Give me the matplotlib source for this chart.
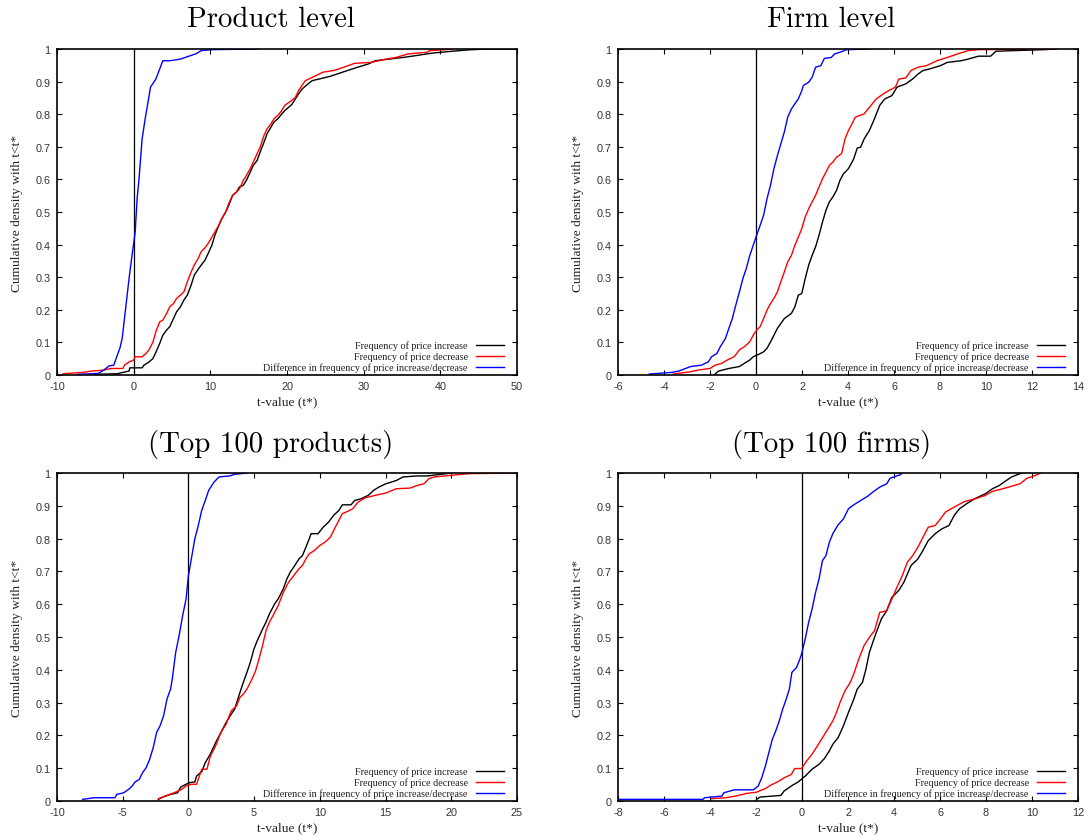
import matplotlib
matplotlib.use("Agg")
import matplotlib.pyplot as plt
from matplotlib.ticker import FixedLocator, FuncFormatter

# ---------------- data ----------------
# Panel 1: Product level
prod_inc_t = [-5.0, -2.1, -1.4, -0.6, -0.5, 1.1, 1.34, 2.0, 2.5, 2.9, 3.4, 3.8, 4.3, 4.7,
              5.2, 5.6, 6.1, 6.55, 7.0, 7.5, 7.9, 8.4, 8.8, 9.3, 9.7, 10.2, 10.6, 11.1, 11.5,
              12.0, 12.4, 12.9, 13.4, 13.8, 14.3, 14.7, 15.2, 15.6, 16.1, 16.5, 17.0, 17.4,
              17.9, 18.3, 18.8, 19.3, 19.7, 20.2, 20.6, 21.1, 21.5, 22.0, 22.4, 22.9, 23.3,
              24.2, 25.6, 26.5, 27.9, 29.2, 30.6, 31.5, 33.3, 35.1, 36.9, 38.8, 40.1, 41.5,
              43.5, 46.0, 50.0]
prod_inc_cdf = [0.002, 0.004, 0.008, 0.012, 0.022, 0.022, 0.03, 0.04, 0.05, 0.07, 0.097, 0.122,
                0.138, 0.148, 0.173, 0.194, 0.209, 0.23, 0.245, 0.276, 0.306, 0.324, 0.337,
                0.352, 0.372, 0.398, 0.429, 0.459, 0.48, 0.5, 0.52, 0.551, 0.561, 0.577, 0.582,
                0.597, 0.622, 0.643, 0.658, 0.684, 0.714, 0.74, 0.76, 0.776, 0.786, 0.80, 0.811,
                0.821, 0.829, 0.847, 0.862, 0.878, 0.886, 0.896, 0.903, 0.908, 0.916, 0.923,
                0.934, 0.944, 0.954, 0.964, 0.969, 0.974, 0.98, 0.987, 0.99, 0.993, 0.997, 1.0, 1.0]
prod_dec_t = [-9.2, -6.6, -5.5, -3.9, -3.0, -1.4, -1.2, -0.6, 0.0, 0.2, 1.1, 1.6, 2.0, 2.5, 2.9,
              3.4, 3.8, 4.3, 4.7, 5.2, 5.6, 6.1, 6.55, 7.0, 7.5, 7.9, 8.4, 8.8, 9.3, 9.7, 10.2,
              10.6, 11.1, 11.5, 12.0, 12.4, 12.9, 13.4, 13.8, 14.3, 14.7, 15.2, 15.6, 16.1,
              16.5, 17.0, 17.4, 17.9, 18.3, 18.8, 19.3, 19.7, 20.6, 21.1, 21.5, 22.0, 22.4,
              23.3, 24.7, 26.1, 27.4, 28.8, 31.0, 32.9, 34.2, 35.8, 38.3, 38.6, 40.1, 41.7]
prod_dec_cdf = [0.004, 0.008, 0.012, 0.015, 0.02, 0.02, 0.03, 0.04, 0.046, 0.056, 0.056, 0.066,
                0.077, 0.10, 0.133, 0.163, 0.168, 0.189, 0.209, 0.219, 0.235, 0.245, 0.255,
                0.286, 0.316, 0.337, 0.357, 0.378, 0.39, 0.403, 0.423, 0.439, 0.459, 0.48, 0.5,
                0.526, 0.551, 0.561, 0.571, 0.597, 0.612, 0.633, 0.653, 0.679, 0.699, 0.735,
                0.755, 0.77, 0.786, 0.796, 0.811, 0.827, 0.842, 0.852, 0.872, 0.89, 0.903,
                0.913, 0.929, 0.934, 0.944, 0.956, 0.959, 0.969, 0.974, 0.985, 0.99, 0.995,
                0.997, 1.0]
prod_diff_t = [-7.3, -4.6, -3.9, -3.2, -2.6, -2.3, -1.8, -1.5, -1.2, -0.8, -0.5, -0.15, 0.2,
               0.45, 0.7, 0.9, 1.1, 1.5, 1.8, 2.2, 2.9, 3.4, 3.8, 4.7, 6.1, 7.2, 8.1, 8.8,
               10.2, 16.3]
prod_diff_cdf = [0.002, 0.005, 0.015, 0.028, 0.03, 0.05, 0.082, 0.112, 0.173, 0.255, 0.316,
                 0.378, 0.439, 0.541, 0.602, 0.663, 0.724, 0.786, 0.827, 0.883, 0.908, 0.939,
                 0.964, 0.964, 0.969, 0.978, 0.985, 0.995, 0.998, 1.0]

# Panel 2: Firm level
firm_inc_t = [-1.78, -1.63, -1.18, -0.72, -0.5, -0.27, -0.12, 0.11, 0.33, 0.48, 0.71, 0.93,
              1.08, 1.23, 1.54, 1.69, 1.84, 1.99, 2.14, 2.29, 2.44, 2.59, 2.74, 2.89, 3.04,
              3.19, 3.34, 3.5, 3.65, 3.8, 4.02, 4.25, 4.4, 4.55, 4.7, 4.93, 5.15, 5.38, 5.6,
              5.91, 6.13, 6.51, 6.81, 7.04, 7.26, 7.56, 8.02, 8.32, 8.92, 9.22, 9.67, 10.2,
              10.43, 11.18, 12.54, 13.07]
firm_inc_cdf = [0.003, 0.012, 0.02, 0.026, 0.036, 0.046, 0.056, 0.063, 0.071, 0.082, 0.112,
                0.143, 0.158, 0.173, 0.189, 0.209, 0.245, 0.25, 0.296, 0.337, 0.367, 0.393,
                0.429, 0.469, 0.505, 0.531, 0.546, 0.566, 0.597, 0.617, 0.633, 0.663, 0.696,
                0.699, 0.724, 0.75, 0.786, 0.827, 0.847, 0.857, 0.883, 0.893, 0.908, 0.923,
                0.934, 0.939, 0.949, 0.959, 0.964, 0.969, 0.978, 0.978, 0.993, 0.995, 0.998, 1.0]
firm_dec_t = [-3.59, -2.84, -2.53, -2.0, -1.78, -1.48, -1.25, -0.95, -0.72, -0.5, -0.27, -0.12,
              0.03, 0.18, 0.33, 0.48, 0.63, 0.78, 0.93, 1.08, 1.23, 1.38, 1.54, 1.69, 1.84,
              1.99, 2.14, 2.29, 2.44, 2.59, 2.74, 2.89, 3.04, 3.19, 3.34, 3.5, 3.72, 3.87,
              4.02, 4.17, 4.32, 4.7, 4.93, 5.23, 5.53, 5.76, 6.06, 6.21, 6.51, 6.74, 7.04,
              7.41, 7.87, 8.32, 8.77, 9.22, 9.67, 13.07]
firm_dec_cdf = [0.003, 0.01, 0.015, 0.02, 0.03, 0.036, 0.046, 0.056, 0.077, 0.087, 0.102,
                0.122, 0.138, 0.148, 0.173, 0.199, 0.219, 0.235, 0.255, 0.286, 0.316, 0.347,
                0.367, 0.398, 0.423, 0.449, 0.485, 0.51, 0.531, 0.551, 0.577, 0.602, 0.622,
                0.643, 0.653, 0.668, 0.679, 0.724, 0.75, 0.77, 0.791, 0.801, 0.821, 0.847,
                0.862, 0.872, 0.883, 0.908, 0.911, 0.934, 0.944, 0.949, 0.964, 0.974, 0.985,
                0.995, 0.998, 1.0]
firm_diff_t = [-4.64, -3.66, -3.36, -2.84, -2.38, -2.08, -1.93, -1.7, -1.55, -1.33, -1.18,
               -1.03, -0.88, -0.72, -0.57, -0.42, -0.27, -0.12, 0.0, 0.18, 0.33, 0.48, 0.63,
               0.78, 0.93, 1.08, 1.23, 1.38, 1.54, 1.69, 1.84, 1.99, 2.06, 2.29, 2.44, 2.59,
               2.82, 2.97, 3.27, 3.42, 3.65, 3.95, 4.93]
firm_diff_cdf = [0.003, 0.008, 0.012, 0.026, 0.03, 0.04, 0.056, 0.066, 0.087, 0.112, 0.143,
                 0.173, 0.214, 0.255, 0.296, 0.327, 0.367, 0.398, 0.423, 0.459, 0.49, 0.541,
                 0.582, 0.633, 0.673, 0.709, 0.745, 0.791, 0.816, 0.832, 0.847, 0.872, 0.888,
                 0.898, 0.913, 0.944, 0.949, 0.971, 0.974, 0.985, 0.99, 0.998, 1.0]

# Panel 3: Top 100 products
tprod_inc_t = [-2.29, -1.89, -1.36, -0.83, -0.57, -0.18, 0.09, 0.49, 0.62, 1.01, 1.28, 1.67,
               2.07, 2.47, 2.86, 3.26, 3.52, 3.92, 4.18, 4.45, 4.71, 4.98, 5.24, 5.64, 5.9,
               6.16, 6.56, 6.83, 7.22, 7.49, 7.75, 8.01, 8.41, 8.67, 8.94, 9.2, 9.33, 9.86,
               10.26, 10.66, 11.05, 11.45, 11.71, 12.37, 12.64, 13.16, 13.69, 14.09, 14.49,
               15.01, 15.81, 16.33, 17.39, 18.18, 20.03]
tprod_inc_cdf = [0.005, 0.013, 0.02, 0.025, 0.043, 0.051, 0.056, 0.058, 0.076, 0.089, 0.117,
                 0.143, 0.178, 0.209, 0.239, 0.265, 0.28, 0.331, 0.362, 0.392, 0.423, 0.463,
                 0.489, 0.524, 0.545, 0.57, 0.601, 0.616, 0.647, 0.677, 0.698, 0.713, 0.738,
                 0.748, 0.774, 0.8, 0.815, 0.815, 0.835, 0.85, 0.871, 0.886, 0.903, 0.903,
                 0.916, 0.922, 0.932, 0.947, 0.957, 0.967, 0.977, 0.988, 0.991, 0.991, 1.0]
tprod_dec_t = [-2.29, -1.63, -1.1, -0.57, -0.18, 0.22, 0.62, 1.01, 1.41, 1.67, 2.07, 2.47,
               2.86, 3.26, 3.66, 3.92, 4.18, 4.45, 4.84, 5.11, 5.37, 5.64, 5.9, 6.16, 6.43,
               6.83, 7.22, 7.62, 8.01, 8.41, 8.67, 8.94, 9.2, 9.6, 9.99, 10.39, 10.79, 11.18,
               11.71, 12.11, 12.5, 12.9, 13.43, 14.22, 15.01, 15.81, 16.86, 17.39, 17.92,
               18.31, 18.71, 20.03, 21.35, 25.0]
tprod_dec_cdf = [0.007, 0.017, 0.025, 0.034, 0.046, 0.051, 0.051, 0.097, 0.097, 0.137, 0.168,
                 0.209, 0.234, 0.275, 0.29, 0.316, 0.326, 0.341, 0.372, 0.397, 0.433, 0.474,
                 0.519, 0.545, 0.565, 0.596, 0.636, 0.667, 0.687, 0.708, 0.718, 0.738, 0.754,
                 0.764, 0.779, 0.789, 0.804, 0.835, 0.876, 0.883, 0.891, 0.911, 0.924, 0.932,
                 0.939, 0.952, 0.954, 0.962, 0.967, 0.983, 0.988, 0.993, 0.998, 1.0]
tprod_diff_t = [-8.05, -7.17, -5.59, -5.46, -4.93, -4.53, -4.27, -4.06, -3.74, -3.48, -3.21,
                -2.95, -2.68, -2.42, -2.16, -1.89, -1.63, -1.36, -1.23, -0.97, -0.71, -0.44,
                -0.18, 0.0, 0.22, 0.49, 0.75, 1.01, 1.28, 1.54, 1.94, 2.33, 3.13, 3.52, 4.45]
tprod_diff_cdf = [0.005, 0.01, 0.01, 0.02, 0.025, 0.036, 0.046, 0.058, 0.066, 0.087, 0.102,
                  0.127, 0.163, 0.209, 0.229, 0.26, 0.311, 0.341, 0.372, 0.453, 0.504, 0.565,
                  0.616, 0.687, 0.738, 0.8, 0.84, 0.886, 0.916, 0.947, 0.972, 0.988, 0.991,
                  0.996, 1.0]

# Panel 4: Top 100 firms
tfirm_inc_t = [-1.97, -1.82, -0.92, -0.77, -0.46, -0.17, 0.14, 0.44, 0.74, 0.97, 1.19, 1.34,
               1.57, 1.8, 2.02, 2.25, 2.4, 2.63, 2.78, 2.93, 3.08, 3.23, 3.45, 3.68, 3.91,
               4.21, 4.43, 4.74, 5.04, 5.26, 5.49, 5.79, 6.09, 6.39, 6.62, 6.85, 7.15, 7.52,
               7.98, 8.28, 8.58, 8.88, 9.11, 9.48, 9.56]
tfirm_inc_cdf = [0.005, 0.012, 0.017, 0.031, 0.046, 0.058, 0.076, 0.097, 0.112, 0.129, 0.153,
                 0.173, 0.193, 0.229, 0.27, 0.31, 0.341, 0.362, 0.402, 0.453, 0.484, 0.514,
                 0.555, 0.58, 0.621, 0.642, 0.667, 0.718, 0.738, 0.764, 0.794, 0.815, 0.83,
                 0.84, 0.871, 0.891, 0.906, 0.922, 0.937, 0.952, 0.962, 0.977, 0.988, 0.998, 1.0]
tfirm_dec_t = [-3.93, -3.33, -2.88, -2.42, -1.97, -1.59, -1.37, -1.07, -0.77, -0.46, -0.32,
               -0.02, 0.2, 0.44, 0.67, 0.89, 1.12, 1.34, 1.5, 1.65, 1.87, 2.1, 2.25, 2.47, 2.7,
               2.93, 3.15, 3.38, 3.68, 3.91, 4.13, 4.36, 4.58, 4.81, 5.04, 5.26, 5.49, 5.79,
               6.02, 6.24, 6.69, 7.07, 7.52, 7.98, 8.28, 8.73, 9.48, 9.78, 10.09, 10.39]
tfirm_dec_cdf = [0.007, 0.01, 0.015, 0.023, 0.027, 0.038, 0.048, 0.058, 0.071, 0.081, 0.099,
                 0.099, 0.122, 0.143, 0.168, 0.193, 0.219, 0.244, 0.27, 0.3, 0.336, 0.362,
                 0.387, 0.433, 0.474, 0.499, 0.519, 0.575, 0.58, 0.616, 0.652, 0.687, 0.728,
                 0.748, 0.774, 0.804, 0.835, 0.84, 0.86, 0.881, 0.899, 0.913, 0.921, 0.932,
                 0.944, 0.952, 0.967, 0.984, 0.991, 1.0]
tfirm_diff_t = [-8.0, -4.31, -4.23, -3.48, -3.4, -2.95, -2.12, -1.9, -1.75, -1.59, -1.44, -1.29,
                -1.14, -0.99, -0.84, -0.69, -0.55, -0.44, -0.24, -0.09, 0.0, 0.14, 0.29, 0.44,
                0.59, 0.74, 0.89, 1.04, 1.19, 1.34, 1.57, 1.8, 2.02, 2.25, 2.55, 2.85, 3.08,
                3.38, 3.68, 3.83, 4.28, 4.36]
tfirm_diff_cdf = [0.005, 0.005, 0.01, 0.015, 0.025, 0.034, 0.034, 0.046, 0.071, 0.107, 0.148,
                  0.188, 0.214, 0.244, 0.28, 0.31, 0.341, 0.392, 0.407, 0.433, 0.453, 0.494,
                  0.545, 0.586, 0.636, 0.677, 0.733, 0.748, 0.789, 0.815, 0.842, 0.86, 0.891,
                  0.903, 0.916, 0.929, 0.942, 0.957, 0.967, 0.984, 0.995, 1.0]

titles = ["Product level", "Firm level", "(Top 100 products)", "(Top 100 firms)"]
series_labels = ["Frequency of price increase", "Frequency of price decrease",
                 "Difference in frequency of price increase/decrease"]
x_limits = [(-10, 50), (-6, 14), (-10, 25), (-8, 12)]
x_ticks = [[-10, 0, 10, 20, 30, 40, 50],
           [-6, -4, -2, 0, 2, 4, 6, 8, 10, 12, 14],
           [-10, -5, 0, 5, 10, 15, 20, 25],
           [-8, -6, -4, -2, 0, 2, 4, 6, 8, 10, 12]]
y_ticks = [0, 0.1, 0.2, 0.3, 0.4, 0.5, 0.6, 0.7, 0.8, 0.9, 1]

panels = [
    [(prod_inc_t, prod_inc_cdf), (prod_dec_t, prod_dec_cdf), (prod_diff_t, prod_diff_cdf)],
    [(firm_inc_t, firm_inc_cdf), (firm_dec_t, firm_dec_cdf), (firm_diff_t, firm_diff_cdf)],
    [(tprod_inc_t, tprod_inc_cdf), (tprod_dec_t, tprod_dec_cdf), (tprod_diff_t, tprod_diff_cdf)],
    [(tfirm_inc_t, tfirm_inc_cdf), (tfirm_dec_t, tfirm_dec_cdf), (tfirm_diff_t, tfirm_diff_cdf)],
]
colors = ["#000000", "#ff0000", "#0000ff"]

# ---------------- layout ----------------
W, H = 1089, 837
fig = plt.figure(figsize=(W / 100, H / 100), dpi=100)
fig.patch.set_facecolor("white")

# axes boxes in pixels: left, right, top, bottom
boxes = [(57, 517, 50, 376), (618, 1078, 50, 376), (57, 517, 474, 802), (618, 1078, 474, 802)]
title_pos = [(271, 27), (831, 27), (271, 452), (832, 452)]
ylabel_x = [17, 578, 17, 578]

serif = ["Liberation Serif", "DejaVu Serif"]
sans = ["Liberation Sans", "DejaVu Sans"]


def fmt(v, pos):
    if abs(v - round(v)) < 1e-9:
        return "%d" % int(round(v))
    return ("%.1f" % v)


for i, (l, r, t, b) in enumerate(boxes):
    ax = fig.add_axes([l / W, 1 - b / H, (r - l) / W, (b - t) / H])
    ax.set_xlim(*x_limits[i])
    ax.set_ylim(0, 1)
    ax.axvline(0, color="black", lw=0.9, zorder=1)
    for (xs, ys), c in zip(panels[i], colors):
        ax.plot(xs, ys, color=c, lw=1.0, zorder=2)
    ax.xaxis.set_major_locator(FixedLocator(x_ticks[i]))
    ax.yaxis.set_major_locator(FixedLocator(y_ticks))
    ax.xaxis.set_major_formatter(FuncFormatter(fmt))
    ax.yaxis.set_major_formatter(FuncFormatter(fmt))
    ax.tick_params(direction="in", length=3.5, width=0.8, top=True, right=True,
                   labelsize=7.8, labelcolor="#333333")
    ax.tick_params(axis="x", pad=4.5)
    ax.tick_params(axis="y", pad=4.5)
    for lab in ax.get_xticklabels() + ax.get_yticklabels():
        lab.set_family(sans)
    for sp in ax.spines.values():
        sp.set_linewidth(1.2)
    # legend (gnuplot style: right-aligned text, sample line to the right)
    for k, (lab, c) in enumerate(zip(series_labels, colors)):
        yk = 0.091 - k * 0.033
        ax.text(0.893, yk, lab, transform=ax.transAxes, ha="right", va="center",
                fontsize=7.3, family=serif, color="#222222")
        ax.plot([0.910, 0.972], [yk, yk], transform=ax.transAxes, color=c, lw=1.0,
                clip_on=False)
    # axis labels
    ax.set_xlabel("t-value (t*)", family=serif, fontsize=9.6, color="#222222", labelpad=3)
    fig.text(ylabel_x[i] / W, 1 - ((t + b) / 2) / H, "Cumulative density with t<t*",
             rotation=90, ha="center", va="center", family=serif, fontsize=9.6,
             color="#222222")
    # title
    fig.text(title_pos[i][0] / W, 1 - title_pos[i][1] / H, titles[i], ha="center",
             va="baseline", family="cmr10", fontsize=20.8)

fig.savefig("out.png", dpi=100, facecolor="white")
